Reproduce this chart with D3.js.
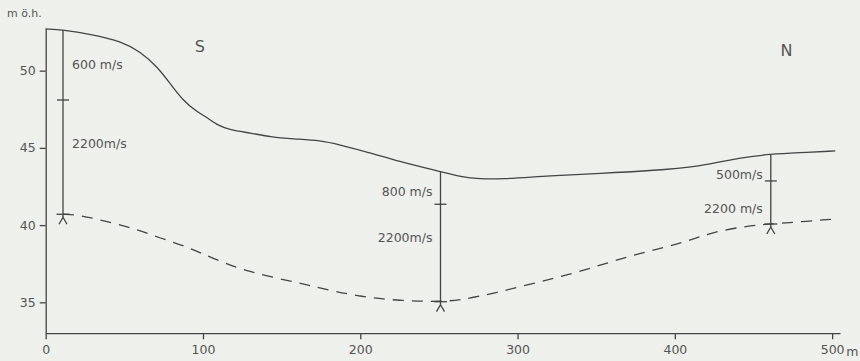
<!DOCTYPE html>
<html>
<head>
<meta charset="utf-8">
<script src="https://cdn.jsdelivr.net/npm/d3@7"></script>
<style>
  html, body { margin: 0; padding: 0; background: #edf0eb; }
  svg { display: block; }
  text { font-family: "DejaVu Sans", sans-serif; fill: #555; }
</style>
</head>
<body>
<svg id="chart" width="860" height="361"></svg>
<script>
// ---- data (distance m, elevation m ö.h.) ----
const surfaceX = [0, 11, 28, 49, 60, 71, 79, 87, 96, 103, 109, 117, 130, 143, 157, 175, 187, 204, 225, 251, 264, 276, 289, 321, 353, 384, 416, 442, 461, 478, 502];
const surfaceY = [52.70, 52.64, 52.38, 51.88, 51.23, 50.26, 49.18, 48.10, 47.34, 46.94, 46.48, 46.16, 45.97, 45.71, 45.58, 45.48, 45.19, 44.75, 44.11, 43.46, 43.13, 42.99, 42.97, 43.20, 43.35, 43.52, 43.78, 44.39, 44.59, 44.69, 44.80];
const bedrockX = [11, 22, 39, 56, 73, 90, 106, 128, 162, 175, 200, 225, 251, 264, 285, 310, 332, 353, 374, 395, 410, 425, 446, 461, 480, 500];
const bedrockY = [40.71, 40.65, 40.22, 39.79, 39.15, 38.60, 37.85, 36.98, 36.23, 35.91, 35.36, 35.10, 35.04, 35.15, 35.58, 36.23, 36.77, 37.42, 38.07, 38.60, 39.03, 39.57, 39.94, 40.07, 40.22, 40.38];
// seismic soundings
const soundX = [11, 251, 461];
const soundTop = [52.64, 43.46, 44.59];
const soundMid = [48.10, 41.35, 42.86];
const soundBottom = [40.70, 35.04, 40.07];
const upperVelocity = ["600 m/s", "800 m/s", "500m/s"];
const lowerVelocity = ["2200m/s", "2200m/s", "2200 m/s"];
const upperLabelY = [50.4, 42.2, 43.3];
const lowerLabelY = [45.3, 39.2, 41.1];
// axes
const xTicks = [0, 100, 200, 300, 400, 500];
const yTicks = [35, 40, 45, 50];
const yLabel = "m ö.h.";
const xUnit = "m";
const directions = [{ t: "S", x: 98, y: 51.6 }, { t: "N", x: 471, y: 51.3 }];

const svg = d3.select("#chart");
const ink = "#444";

const x = d3.scaleLinear().domain([0, 505]).range([45.7, 840]);
const y = d3.scaleLinear().domain([33, 52.75]).range([333.2, 28.2]);

// axes
const xAxis = svg.append("g").attr("transform", `translate(0,${y(33)})`)
  .call(d3.axisBottom(x).tickValues(xTicks).tickSize(6).tickSizeOuter(0).tickPadding(6).tickFormat(d3.format("d")));
const yAxis = svg.append("g").attr("transform", `translate(${x(0)},0)`)
  .call(d3.axisLeft(y).tickValues(yTicks).tickSize(6).tickSizeOuter(0).tickPadding(4).tickFormat(d3.format("d")));
[xAxis, yAxis].forEach(g => {
  g.selectAll("path, line").attr("stroke", ink).attr("stroke-width", 1.3);
  g.selectAll("text").attr("fill", "#555").style("font-size", "12.5px").style("font-family", "DejaVu Sans, sans-serif");
});

svg.append("text").attr("x", x(500) + 14).attr("y", y(33) + 22.5)
  .style("font-size", "12.5px").text(xUnit);
svg.append("text").attr("x", 7).attr("y", 17)
  .style("font-size", "11px").text(yLabel);

// lines
const line = d3.line().x(d => x(d[0])).y(d => y(d[1])).curve(d3.curveBasis);
svg.append("path").datum(d3.zip(surfaceX, surfaceY))
  .attr("d", line).attr("fill", "none").attr("stroke", ink).attr("stroke-width", 1.3);
svg.append("path").datum(d3.zip(bedrockX, bedrockY))
  .attr("d", line).attr("fill", "none").attr("stroke", ink).attr("stroke-width", 1.3)
  .attr("stroke-dasharray", "11,8");

// soundings
soundX.forEach((sx, i) => {
  const px = x(sx), yb = y(soundBottom[i]);
  const g = svg.append("g").attr("stroke", ink).attr("stroke-width", 1.3).attr("fill", "none");
  g.append("line").attr("x1", px).attr("x2", px).attr("y1", y(soundTop[i])).attr("y2", yb + 3);
  g.append("line").attr("x1", px - 6).attr("x2", px + 6).attr("y1", y(soundMid[i])).attr("y2", y(soundMid[i]));
  g.append("line").attr("x1", px - 6.5).attr("x2", px + 6.5).attr("y1", yb).attr("y2", yb);
  g.append("path").attr("d", `M${px - 4},${yb + 10} L${px},${yb + 3} L${px + 4},${yb + 10}`);
  const left = i === 0;
  const tx = left ? px + 9 : px - 8;
  const anchor = left ? "start" : "end";
  svg.append("text").attr("x", tx).attr("y", y(upperLabelY[i])).attr("dy", "0.36em")
    .attr("text-anchor", anchor).style("font-size", "12.5px").text(upperVelocity[i]);
  svg.append("text").attr("x", tx).attr("y", y(lowerLabelY[i])).attr("dy", "0.36em")
    .attr("text-anchor", anchor).style("font-size", "12.5px").text(lowerVelocity[i]);
});

// direction letters
directions.forEach(d => {
  svg.append("text").attr("x", x(d.x)).attr("y", y(d.y)).attr("dy", "0.36em")
    .attr("text-anchor", "middle").style("font-size", "16px").text(d.t);
});
</script>
</body>
</html>
